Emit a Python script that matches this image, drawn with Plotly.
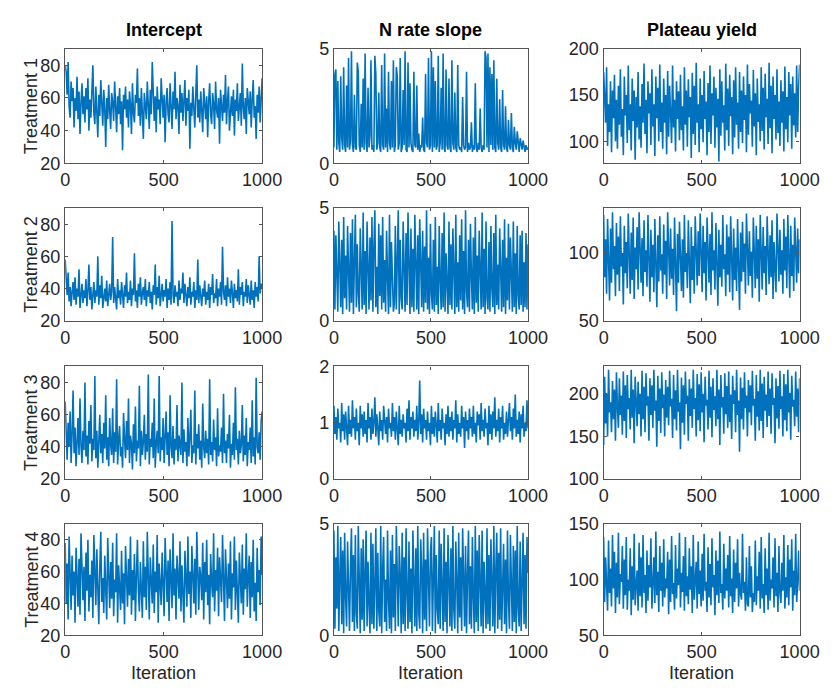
import numpy as np
import plotly.graph_objects as go

# ---------------- data ----------------
col_titles = ["Intercept", "N rate slope", "Plateau yield"]
row_titles = ["Treatment 1", "Treatment 2", "Treatment 3", "Treatment 4"]
x_ticks = [0, 500, 1000]

intercept_t1 = [
80,76,62,82,55,48,70,58,66,42,60,52,73,47,64,38,57,69,50,61,
45,66,53,72,40,59,48,63,80,51,44,67,55,36,62,49,71,58,43,65,
54,30,60,47,68,52,41,63,57,46,70,55,39,61,50,66,44,58,28,62,
53,67,48,59,42,64,56,38,69,51,45,62,57,78,49,60,43,66,52,35,
63,55,47,70,58,41,65,50,82,54,46,61,39,67,53,59,44,72,56,48,
62,33,57,66,50,45,69,58,41,64,53,76,47,60,55,38,68,51,63,46,
58,71,43,60,52,65,29,57,49,67,54,42,62,80,48,59,45,64,52,39,
66,55,47,61,36,58,69,50,44,63,56,41,70,53,48,60,32,65,57,46,
62,51,74,44,58,67,40,55,61,49,65,37,59,52,69,46,57,63,43,81,
54,47,60,38,66,56,50,64,42,59,71,48,55,35,62,51,67,45,58,72]
intercept_t2 = [
58,45,36,50,32,41,29,38,44,33,47,30,40,35,52,28,37,43,31,39,
34,46,29,38,55,33,41,27,36,44,31,39,35,60,30,42,34,48,28,37,
40,32,45,29,36,43,33,38,72,31,41,35,27,46,34,39,30,44,37,28,
42,35,50,31,38,33,45,29,40,36,62,32,39,28,43,35,47,30,37,41,
33,46,29,39,35,44,31,38,27,42,36,55,30,41,34,48,29,37,43,32,
39,35,46,28,40,33,44,30,82,36,31,42,35,38,29,45,33,40,37,50,
31,43,36,29,41,34,47,30,38,35,44,28,39,33,58,31,42,36,29,40,
35,45,30,38,33,43,28,41,36,49,31,37,34,46,29,40,35,44,30,66,
38,33,42,29,47,35,40,31,45,37,28,43,34,39,32,52,30,41,36,44,
29,38,35,46,31,42,36,30,45,33,39,28,44,35,41,32,60,37,43,40]
intercept_t3 = [
68,45,32,55,40,62,30,48,75,36,52,28,44,58,35,70,41,30,50,38,
80,34,47,29,56,42,66,31,45,38,84,33,50,27,43,60,36,48,30,55,
39,72,32,46,28,58,41,35,64,30,49,37,82,29,44,53,34,40,27,61,
45,33,56,38,70,30,47,42,26,54,36,65,31,44,39,78,28,50,35,43,
60,32,48,37,85,29,45,40,55,33,70,27,42,50,36,84,31,46,38,58,
30,44,62,35,49,28,72,40,33,53,29,45,38,66,31,47,42,35,80,30,
51,37,43,28,58,34,46,63,30,41,36,75,29,48,39,54,32,44,27,67,
40,33,50,36,45,29,82,35,43,31,57,38,46,28,64,34,41,37,52,30,
73,36,44,30,48,39,60,27,42,35,55,32,77,38,45,29,50,36,41,66,
31,47,35,58,28,43,38,52,30,69,34,46,29,83,40,36,49,32,56,62]
intercept_t4 = [
78,40,65,30,82,52,36,70,45,60,28,75,50,38,68,33,84,55,42,63,
29,72,48,80,35,58,44,67,31,83,53,39,74,46,27,62,85,41,56,34,
70,49,30,81,60,37,66,43,78,32,55,47,84,28,64,51,36,73,40,59,
27,76,53,38,68,45,82,33,61,42,71,29,57,80,48,35,66,52,31,79,
44,63,36,85,50,30,69,56,40,77,34,60,47,83,28,65,54,39,72,46,
32,81,58,41,67,29,74,50,37,84,45,62,30,70,55,43,79,35,64,48,
28,73,52,38,82,46,60,31,76,54,40,68,33,85,49,36,63,57,42,78,
30,66,47,80,39,58,27,71,53,44,84,35,61,48,75,32,69,56,41,83,
45,29,74,51,37,65,43,79,30,59,50,82,36,67,46,28,72,55,40,77,
33,62,49,84,38,57,70,31,66,44,80,35,53,29,75,47,61,39,82,58]

slope_t1 = [
0.7,3.9,4.1,0.6,3.6,0.9,0.5,3.8,1.1,0.6,4.2,0.8,0.5,3.4,0.7,4.6,0.6,1.0,4.9,0.8,
0.5,3.0,0.7,0.6,4.4,4.0,0.8,0.5,2.6,0.7,3.7,0.6,4.8,0.9,0.5,3.3,0.7,1.2,4.5,0.6,
0.8,0.5,4.7,3.9,0.6,0.9,3.1,0.7,0.5,4.3,0.8,0.6,4.8,0.7,2.4,0.5,4.0,0.9,0.6,3.6,
0.7,4.5,0.5,0.8,4.2,3.8,0.6,0.9,4.6,0.5,0.7,3.2,0.8,4.9,0.6,0.5,4.4,0.7,3.5,0.9,
0.6,0.5,4.0,0.8,0.7,3.4,0.6,1.3,0.5,0.8,0.7,2.0,0.6,0.5,3.9,0.9,0.7,4.6,0.6,0.8,
4.9,0.5,4.2,0.7,3.6,0.6,0.8,4.7,0.5,0.9,3.3,0.6,4.8,0.7,0.5,4.1,0.8,0.6,3.7,0.7,
0.5,4.5,0.9,0.6,3.1,0.7,0.5,4.3,0.8,0.6,0.7,0.5,2.9,0.8,0.6,0.7,4.0,0.5,0.9,0.6,
0.7,1.8,0.5,0.8,0.6,3.5,0.7,0.5,0.9,0.6,2.4,0.7,0.5,0.8,0.6,4.9,4.6,0.7,4.8,0.5,
4.2,0.8,3.9,0.6,4.5,0.7,0.5,3.7,0.9,0.6,2.8,0.7,0.5,3.2,0.8,0.6,2.5,0.7,0.5,1.9,
0.8,0.6,2.2,0.7,0.5,1.6,0.9,0.6,1.4,0.7,0.5,1.1,0.8,0.6,1.0,0.7,0.5,0.8,0.6,0.7]
slope_t2 = [
4.0,0.5,3.8,1.3,0.4,4.4,2.2,0.6,3.6,0.3,4.6,1.0,2.9,0.5,4.2,1.7,0.4,3.9,0.8,4.5,
0.3,2.6,4.7,0.6,3.4,1.2,0.4,4.1,2.0,0.5,4.8,0.7,3.1,0.3,4.4,1.5,0.5,3.7,0.9,4.6,
0.4,3.3,4.9,0.6,2.4,0.3,4.3,1.1,3.8,0.5,4.6,0.8,2.7,0.4,4.0,1.9,0.3,4.7,0.6,3.5,
1.3,0.4,0.8,4.2,0.5,2.2,4.9,0.3,3.6,1.0,0.5,4.4,2.5,0.4,3.9,0.7,4.8,1.6,0.3,4.1,
0.6,3.2,0.4,4.7,1.4,0.5,3.8,0.3,4.5,2.1,0.6,4.0,0.4,3.3,0.8,4.9,0.5,2.8,0.3,4.3,
1.2,0.5,3.6,0.4,4.6,0.7,2.4,0.3,4.2,1.8,0.5,3.9,0.6,4.8,0.4,3.0,1.1,0.3,4.4,0.7,
3.4,0.5,4.1,1.5,0.3,4.7,0.6,2.6,0.4,3.8,0.9,4.5,0.5,3.1,0.3,4.9,1.3,0.6,3.6,0.4,
4.3,2.0,0.5,3.7,0.3,4.6,0.8,2.9,0.4,4.0,1.6,0.5,4.8,0.6,3.2,0.3,4.4,1.0,0.5,3.5,
0.4,4.2,1.4,0.6,3.9,0.3,4.7,0.7,2.5,0.5,4.1,1.2,0.4,3.6,0.6,4.5,0.3,2.8,0.9,4.3,
0.5,3.7,1.8,0.4,4.4,0.6,3.0,0.3,4.2,1.1,0.5,3.8,0.7,4.0,0.4,2.6,0.6,3.9,0.5,3.4]
slope_t3 = [
1.3,0.8,1.1,0.7,1.25,0.9,1.0,0.65,1.35,0.85,1.15,0.7,1.2,0.95,0.6,1.3,0.8,1.05,0.75,1.4,
0.9,1.1,0.7,1.25,0.85,1.0,0.6,1.3,0.9,1.15,0.75,1.2,0.8,1.05,0.65,1.35,0.9,1.1,0.7,1.25,
0.8,1.0,1.45,0.75,1.15,0.9,0.6,1.2,0.85,1.05,0.7,1.3,0.95,0.8,1.1,0.65,1.25,0.9,1.0,0.75,
1.35,0.85,1.1,0.7,1.2,0.95,0.6,1.3,0.8,1.05,0.75,1.15,0.9,1.0,0.65,1.25,0.85,1.4,0.7,1.1,
0.9,1.2,0.75,1.05,0.85,1.3,0.7,1.0,1.75,0.8,1.15,0.65,1.25,0.9,1.05,0.7,1.2,0.85,1.0,0.6,
1.3,0.8,1.1,0.75,1.2,0.95,0.65,1.35,0.85,1.05,0.7,1.25,0.9,1.0,0.6,1.15,0.8,1.3,0.75,1.1,
0.85,1.2,0.7,1.05,0.9,1.4,0.65,1.15,0.8,1.0,0.75,1.3,0.9,1.1,0.55,1.2,0.85,1.05,0.7,1.25,
0.9,1.1,0.75,1.3,0.8,1.0,0.65,1.2,0.95,1.15,0.7,1.35,0.85,1.05,0.75,1.25,0.9,1.0,0.6,1.3,
0.8,1.15,0.7,1.2,0.9,1.45,0.75,1.05,0.85,1.25,0.65,1.1,0.9,1.3,0.7,1.0,0.8,1.2,0.75,1.05,
1.35,0.85,1.1,0.7,1.25,0.9,1.5,0.75,1.05,0.8,1.2,0.65,1.15,0.9,1.3,0.75,1.0,0.85,1.4,0.9]
slope_t4 = [
4.7,0.3,3.5,1.2,4.9,0.2,2.6,4.4,0.5,3.8,0.1,4.6,1.7,0.4,4.2,2.4,0.2,3.1,4.8,0.6,
3.6,0.2,4.5,1.0,0.3,4.9,2.0,0.1,3.9,0.7,4.3,0.2,2.8,4.7,0.4,3.3,1.4,0.1,4.6,0.5,
4.1,0.3,2.3,4.8,0.2,3.7,1.1,0.4,4.9,0.1,3.0,4.4,0.6,2.5,0.2,4.7,1.6,0.3,3.8,0.1,
4.5,0.8,3.2,0.2,4.9,1.3,0.4,4.0,2.7,0.1,4.6,0.5,3.5,0.2,4.8,1.9,0.3,4.2,0.6,3.0,
0.1,4.7,2.2,0.4,3.9,0.2,4.9,1.0,0.3,4.3,2.9,0.1,4.6,0.7,3.4,0.2,4.8,1.5,0.4,3.7,
4.4,0.2,2.6,4.9,0.1,3.6,1.2,0.5,4.7,0.3,4.1,2.1,0.2,4.8,0.6,3.3,0.1,4.5,1.8,0.4,
3.9,0.2,4.9,1.1,0.3,4.2,2.4,0.1,4.6,0.8,3.5,0.2,4.8,1.4,0.4,4.0,0.1,2.7,4.7,0.5,
3.1,0.3,4.4,1.7,0.1,4.9,0.6,3.8,0.2,4.5,2.0,0.4,4.7,0.1,3.3,1.0,0.3,4.8,0.5,3.6,
0.2,4.3,1.3,0.4,4.9,0.1,2.9,4.6,0.3,3.7,0.7,4.8,0.2,2.2,4.1,0.5,3.4,0.1,4.7,1.6,
0.3,4.5,2.5,0.2,4.0,0.6,3.8,0.1,4.9,1.2,0.4,4.2,0.2,3.1,4.6,0.5,3.6,0.3,4.4,2.8]

plateau_t1 = [
175,150,120,180,95,140,110,165,88,155,125,172,100,145,92,160,118,178,105,135,
85,170,128,150,98,182,112,140,90,168,122,155,80,148,115,175,102,138,93,162,
120,184,108,145,87,165,130,152,96,178,116,140,84,170,125,158,100,183,110,142,
92,168,120,150,86,176,105,160,133,98,182,115,145,89,165,124,154,101,172,112,
138,90,180,118,155,94,167,126,148,82,174,108,160,96,185,120,140,88,168,113,
150,99,176,124,143,85,163,110,182,97,152,128,170,93,158,115,146,78,178,106,
165,120,139,90,184,112,157,95,172,127,148,86,166,104,180,118,142,92,175,110,
155,98,170,123,150,88,183,107,162,130,144,94,177,116,152,85,168,121,140,100,
180,111,158,91,173,126,146,97,185,114,160,87,170,124,150,102,178,109,143,95,
166,120,154,89,181,113,148,99,175,128,162,92,170,117,152,104,182,110,158,183]
plateau_t2 = [
128,82,110,70,125,95,65,118,78,130,88,105,68,122,84,112,72,127,90,100,
62,120,85,108,74,129,92,70,115,80,126,66,104,88,119,73,130,96,78,111,
68,124,86,102,75,128,90,64,117,82,106,71,125,94,60,113,79,127,87,99,
70,121,84,109,66,130,92,76,118,81,103,69,126,88,57,114,78,123,95,72,
110,67,128,86,100,74,124,91,63,119,80,105,70,127,89,76,116,83,129,97,
71,120,85,108,65,126,93,78,114,69,130,87,102,73,122,90,61,117,82,106,
75,128,88,99,68,121,84,112,71,127,94,65,118,80,104,72,125,91,58,115,
79,123,86,107,70,129,95,76,116,83,101,67,126,89,74,120,81,110,64,128,
92,73,119,85,105,69,127,88,77,113,82,124,66,108,90,71,129,94,79,117,
84,102,70,125,87,112,74,128,91,67,120,83,106,72,126,96,78,118,85,110]
plateau_t3 = [
140,220,165,200,150,228,178,190,155,215,170,205,145,225,185,160,218,175,198,152,
226,168,210,148,222,182,195,158,228,172,205,142,220,188,162,214,176,200,150,227,
170,208,155,224,186,197,145,218,175,210,160,228,180,192,138,221,168,206,154,225,
183,199,150,216,172,208,163,227,185,194,148,222,170,204,157,228,179,190,135,219,
166,210,152,226,188,198,145,217,174,206,160,228,182,195,150,223,169,211,156,225,
178,200,143,220,186,193,158,227,172,208,149,218,181,197,162,228,170,205,140,222,
184,196,153,224,176,209,160,226,167,199,147,221,188,204,155,228,175,192,132,219,
170,207,158,225,183,198,150,216,178,210,163,227,186,194,145,222,173,203,157,228,
168,212,148,220,180,199,161,226,174,206,153,224,187,195,142,218,171,209,159,227,
182,197,150,223,169,211,156,228,178,201,146,221,185,193,162,226,173,206,155,218]
plateau_t4 = [
138,80,120,95,72,135,88,110,76,140,92,125,70,115,84,142,78,105,98,130,
74,118,86,138,73,100,90,128,68,112,82,141,77,96,108,72,133,85,120,75,
140,88,104,70,126,81,113,93,137,74,98,120,79,143,86,107,71,130,90,115,
76,136,84,101,92,125,69,118,80,139,87,97,73,131,83,110,95,142,75,106,
89,121,72,138,85,103,78,128,91,112,70,140,82,99,116,74,134,87,108,76,
123,81,141,90,98,71,129,84,114,77,137,93,104,68,126,86,117,79,143,88,
96,73,132,83,110,90,122,75,139,85,101,70,127,80,115,92,136,76,106,87,
82,141,88,98,72,120,78,76,130,84,112,71,88,80,135,77,103,90,125,74,
138,83,96,70,128,86,110,73,142,81,100,92,120,75,137,85,106,71,130,88,
79,115,90,140,74,102,84,131,77,118,93,136,72,108,86,141,80,97,126,90]

series = [
    [intercept_t1, slope_t1, plateau_t1],
    [intercept_t2, slope_t2, plateau_t2],
    [intercept_t3, slope_t3, plateau_t3],
    [intercept_t4, slope_t4, plateau_t4],
]
y_ranges = [
    [[20, 90], [0, 5], [76, 200]],
    [[20, 90], [0, 5], [50, 133]],
    [[20, 90], [0, 2], [100, 232]],
    [[20, 90], [0, 5], [50, 150]],
]
y_ticks = [
    [[20, 40, 60, 80], [0, 5], [100, 150, 200]],
    [[20, 40, 60, 80], [0, 5], [50, 100]],
    [[20, 40, 60, 80], [0, 1, 2], [100, 150, 200]],
    [[20, 40, 60, 80], [0, 5], [50, 100, 150]],
]

# ---------------- layout geometry (pixels) ----------------
W, H = 840, 693
col_px = [(62, 265), (339, 539), (617, 819)]
row_px = [(40, 158), (204, 320), (367, 483), (529, 644)]

LINE = "#0072BD"
TXT = "#262626"
FONT = "Liberation Sans, Arial, sans-serif"

fig = go.Figure()
layout = dict(
    width=W, height=H, margin=dict(l=0, r=0, t=0, b=0),
    paper_bgcolor="white", plot_bgcolor="white", showlegend=False,
    font=dict(family=FONT, color=TXT, size=18),
)
annotations = []

k = 0
for r in range(4):
    for c in range(3):
        k += 1
        xa = "xaxis" if k == 1 else f"xaxis{k}"
        ya = "yaxis" if k == 1 else f"yaxis{k}"
        xref = "x" if k == 1 else f"x{k}"
        yref = "y" if k == 1 else f"y{k}"
        vals = series[r][c]
        n = len(vals)
        xs = np.linspace(0, 1000, n)
        fig.add_trace(go.Scatter(x=xs, y=vals, mode="lines",
                                 line=dict(color=LINE, width=1.6),
                                 xaxis=xref, yaxis=yref, hoverinfo="skip"))
        x0, x1 = col_px[c]
        y0, y1 = row_px[r]
        common = dict(showgrid=False, zeroline=False, showline=True,
                      linecolor="#555555", linewidth=1.3, mirror="ticks",
                      ticks="inside", ticklen=3, tickcolor="#555555",
                      tickfont=dict(family=FONT, size=18, color=TXT))
        layout[xa] = dict(domain=[x0 / W, x1 / W], range=[0, 1000],
                          tickvals=x_ticks, anchor=yref, **common)
        layout[ya] = dict(domain=[1 - y1 / H, 1 - y0 / H], range=y_ranges[r][c],
                          tickvals=y_ticks[r][c], anchor=xref, **common)

# column titles
for c, t in enumerate(col_titles):
    x0, x1 = col_px[c]
    annotations.append(dict(text=f"<b>{t}</b>", x=(x0 + x1) / 2 / W, y=1 - 21 / H,
                            xref="paper", yref="paper", showarrow=False,
                            xanchor="center", yanchor="middle",
                            font=dict(family=FONT, size=18, color="black")))
# row labels
for r, t in enumerate(row_titles):
    y0, y1 = row_px[r]
    annotations.append(dict(text=t, x=27 / W, y=1 - (y0 + y1) / 2 / H,
                            xref="paper", yref="paper", showarrow=False,
                            textangle=-90, xanchor="center", yanchor="middle",
                            font=dict(family=FONT, size=18, color=TXT)))
# x labels
for c in range(3):
    x0, x1 = col_px[c]
    annotations.append(dict(text="Iteration", x=(x0 + x1) / 2 / W, y=1 - 683 / H,
                            xref="paper", yref="paper", showarrow=False,
                            xanchor="center", yanchor="middle",
                            font=dict(family=FONT, size=18, color=TXT)))

layout["annotations"] = annotations
fig.update_layout(**layout)
fig.write_html("out.html")
